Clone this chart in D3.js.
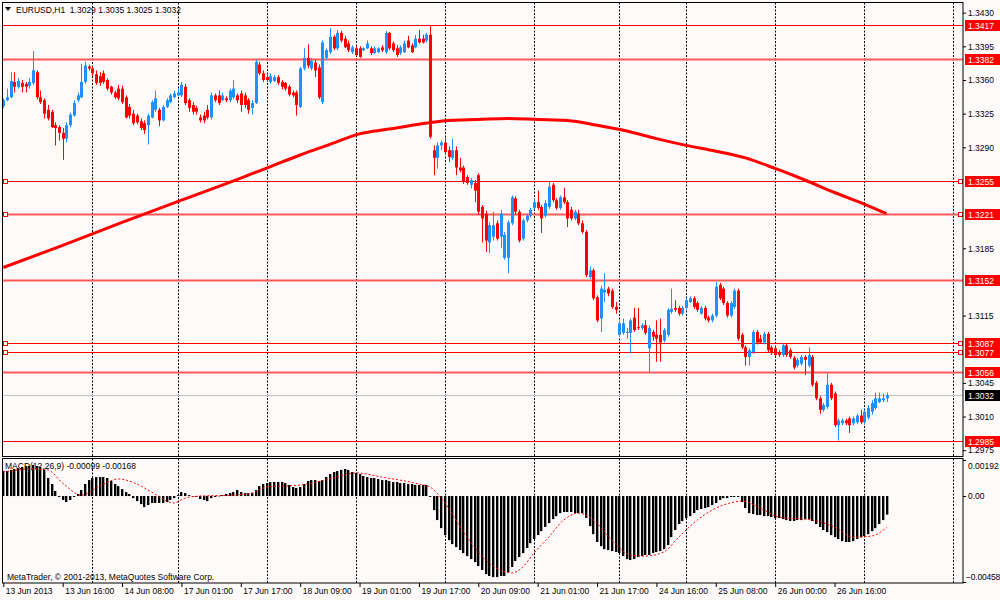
<!DOCTYPE html>
<html lang="en">
<head>
  <meta charset="UTF-8" />
  <title>EURUSD,H1</title>
  <script src="https://cdn.jsdelivr.net/npm/d3@7/dist/d3.min.js"></script>
  <style>
    body { margin: 0; background: #fffafa; }
    #chart { width: 1000px; height: 600px; }
    svg text { font-family: "Liberation Sans", Arial, sans-serif; font-size: 8.5px; fill: #000; }
  </style>
</head>
<body>
  <div id="chart"></div>

  <script>
  // EURUSD H1 candles (one entry per hourly bar)
  const opens = [
    1.3333,1.3339,1.3342,1.3358,1.3353,1.3357,1.3356,1.3354,1.3357,1.3368,
    1.3342,1.3339,1.3329,1.3327,1.3313,1.3311,1.3305,1.3299,1.3313,1.3323,
    1.3339,1.3342,1.3358,1.3374,1.3372,1.3366,1.3364,1.3367,1.3360,1.3353,
    1.3347,1.3351,1.3351,1.3342,1.3332,1.3325,1.3323,1.3317,1.3315,1.3313,
    1.3321,1.3329,1.3329,1.3318,1.3332,1.3337,1.3342,1.3344,1.3344,1.3353,
    1.3339,1.3334,1.3331,1.3321,1.3323,1.3329,1.3321,1.3344,1.3344,1.3339,
    1.3341,1.3339,1.3342,1.3344,1.3346,1.3344,1.3339,1.3331,1.3336,1.3376,
    1.3367,1.3363,1.3358,1.3359,1.3363,1.3358,1.3357,1.3353,1.3347,1.3347,
    1.3332,1.3372,1.3383,1.3372,1.3378,1.3373,1.3337,1.3383,1.3389,1.3405,
    1.3393,1.3409,1.3403,1.3398,1.3389,1.3393,1.3393,1.3391,1.3393,1.3393,
    1.3388,1.3389,1.3394,1.3389,1.3409,1.3398,1.3393,1.3388,1.3389,1.3401,
    1.3396,1.3394,1.3403,1.3403,1.3401,1.3407,1.3287,1.3279,1.3292,1.3295,
    1.3287,1.3279,1.3287,1.3269,1.3269,1.3259,1.3251,1.3253,1.3261,1.3228,
    1.3221,1.3191,1.3197,1.3211,1.3197,1.3175,1.3175,1.3211,1.3237,1.3223,
    1.3195,1.3214,1.3219,1.3227,1.3233,1.3228,1.3219,1.3228,1.3251,1.3235,
    1.3227,1.3238,1.3233,1.3225,1.3216,1.3221,1.3211,1.3202,1.3155,1.3162,
    1.3134,1.3112,1.3139,1.3143,1.3141,1.3124,1.3095,1.3097,1.3097,1.3097,
    1.3113,1.3103,1.3102,1.3105,1.3081,1.3098,1.3095,1.3095,1.3089,1.3095,
    1.3119,1.3123,1.3123,1.3117,1.3123,1.3129,1.3133,1.3128,1.3117,1.3123,
    1.3113,1.3110,1.3115,1.3147,1.3143,1.3128,1.3115,1.3124,1.3141,1.3095,
    1.3082,1.3072,1.3077,1.3098,1.3091,1.3087,1.3096,1.3082,1.3081,1.3077,
    1.3074,1.3084,1.3079,1.3071,1.3063,1.3065,1.3072,1.3063,1.3072,1.3045,
    1.3029,1.3017,1.3020,1.3043,1.3034,1.3001,1.3003,1.3006,1.3008,1.3003,
    1.3004,1.3011,1.3004,1.3009,1.3015,1.3019,1.3025,1.3027,1.3029
  ];
  const highs = [
    1.3341,1.3351,1.3368,1.3368,1.3362,1.3360,1.3358,1.3362,1.3390,1.3370,
    1.3349,1.3341,1.3334,1.3329,1.3316,1.3313,1.3310,1.3316,1.3326,1.3339,
    1.3347,1.3377,1.3379,1.3376,1.3374,1.3370,1.3368,1.3370,1.3362,1.3354,
    1.3349,1.3355,1.3354,1.3344,1.3335,1.3329,1.3325,1.3320,1.3318,1.3325,
    1.3339,1.3349,1.3331,1.3334,1.3341,1.3346,1.3349,1.3351,1.3358,1.3356,
    1.3341,1.3337,1.3333,1.3324,1.3327,1.3334,1.3347,1.3346,1.3349,1.3347,
    1.3343,1.3351,1.3360,1.3346,1.3349,1.3347,1.3341,1.3339,1.3381,1.3379,
    1.3370,1.3365,1.3367,1.3365,1.3365,1.3360,1.3358,1.3355,1.3349,1.3349,
    1.3374,1.3393,1.3397,1.3383,1.3381,1.3376,1.3401,1.3393,1.3414,1.3407,
    1.3412,1.3411,1.3406,1.3401,1.3396,1.3395,1.3395,1.3394,1.3401,1.3395,
    1.3395,1.3394,1.3396,1.3411,1.3410,1.3400,1.3396,1.3396,1.3401,1.3406,
    1.3398,1.3407,1.3412,1.3407,1.3409,1.3417,1.3292,1.3295,1.3297,1.3300,
    1.3291,1.3299,1.3291,1.3279,1.3271,1.3261,1.3258,1.3256,1.3263,1.3230,
    1.3224,1.3212,1.3223,1.3214,1.3225,1.3202,1.3214,1.3240,1.3239,1.3225,
    1.3216,1.3221,1.3227,1.3237,1.3245,1.3230,1.3235,1.3254,1.3253,1.3237,
    1.3240,1.3248,1.3235,1.3228,1.3225,1.3225,1.3214,1.3204,1.3166,1.3164,
    1.3136,1.3146,1.3159,1.3145,1.3143,1.3129,1.3110,1.3112,1.3102,1.3112,
    1.3123,1.3123,1.3107,1.3110,1.3105,1.3100,1.3110,1.3112,1.3102,1.3123,
    1.3143,1.3131,1.3125,1.3125,1.3133,1.3135,1.3135,1.3130,1.3125,1.3125,
    1.3115,1.3117,1.3150,1.3149,1.3145,1.3130,1.3130,1.3143,1.3143,1.3097,
    1.3084,1.3081,1.3100,1.3100,1.3095,1.3098,1.3098,1.3084,1.3083,1.3079,
    1.3086,1.3086,1.3081,1.3073,1.3071,1.3074,1.3074,1.3082,1.3074,1.3047,
    1.3031,1.3024,1.3055,1.3045,1.3036,1.3008,1.3008,1.3008,1.3010,1.3010,
    1.3013,1.3017,1.3017,1.3022,1.3027,1.3035,1.3035,1.3034,1.3035
  ];
  const lows = [
    1.3331,1.3338,1.3341,1.3347,1.3351,1.3347,1.3347,1.3351,1.3355,1.3340,
    1.3335,1.3320,1.3318,1.3310,1.3292,1.3297,1.3277,1.3295,1.3311,1.3322,
    1.3337,1.3341,1.3356,1.3370,1.3364,1.3355,1.3354,1.3356,1.3349,1.3345,
    1.3340,1.3339,1.3335,1.3320,1.3320,1.3313,1.3314,1.3308,1.3304,1.3293,
    1.3320,1.3327,1.3312,1.3317,1.3331,1.3336,1.3341,1.3343,1.3342,1.3334,
    1.3327,1.3324,1.3324,1.3316,1.3315,1.3319,1.3319,1.3337,1.3334,1.3338,
    1.3337,1.3337,1.3340,1.3336,1.3327,1.3331,1.3325,1.3324,1.3335,1.3365,
    1.3358,1.3358,1.3356,1.3358,1.3355,1.3350,1.3349,1.3343,1.3342,1.3323,
    1.3331,1.3370,1.3372,1.3370,1.3363,1.3340,1.3335,1.3381,1.3387,1.3391,
    1.3391,1.3399,1.3393,1.3389,1.3387,1.3385,1.3383,1.3390,1.3392,1.3386,
    1.3387,1.3388,1.3389,1.3387,1.3391,1.3389,1.3384,1.3386,1.3388,1.3393,
    1.3388,1.3393,1.3398,1.3398,1.3399,1.3299,1.3261,1.3268,1.3287,1.3282,
    1.3275,1.3277,1.3261,1.3264,1.3252,1.3251,1.3247,1.3233,1.3220,1.3191,
    1.3181,1.3180,1.3193,1.3193,1.3185,1.3173,1.3159,1.3209,1.3220,1.3191,
    1.3193,1.3212,1.3217,1.3225,1.3225,1.3201,1.3217,1.3226,1.3233,1.3225,
    1.3225,1.3231,1.3207,1.3214,1.3214,1.3209,1.3200,1.3155,1.3153,1.3131,
    1.3108,1.3098,1.3129,1.3135,1.3122,1.3117,1.3093,1.3095,1.3091,1.3076,
    1.3098,1.3100,1.3100,1.3095,1.3056,1.3089,1.3067,1.3067,1.3087,1.3093,
    1.3117,1.3119,1.3115,1.3115,1.3121,1.3128,1.3122,1.3119,1.3116,1.3110,
    1.3108,1.3108,1.3113,1.3131,1.3126,1.3113,1.3113,1.3122,1.3089,1.3080,
    1.3063,1.3063,1.3075,1.3085,1.3086,1.3085,1.3077,1.3074,1.3072,1.3072,
    1.3072,1.3072,1.3070,1.3059,1.3061,1.3063,1.3053,1.3061,1.3041,1.3027,
    1.3013,1.3015,1.3018,1.3027,1.2999,1.2985,1.3001,1.3001,1.2993,1.3001,
    1.3002,1.3002,1.3002,1.3007,1.3012,1.3017,1.3024,1.3025,1.3025
  ];
  const closes = [
    1.3339,1.3342,1.3359,1.3353,1.3359,1.3353,1.3353,1.3358,1.3370,1.3342,
    1.3337,1.3325,1.3320,1.3311,1.3310,1.3305,1.3299,1.3313,1.3324,1.3336,
    1.3344,1.3358,1.3375,1.3372,1.3367,1.3357,1.3357,1.3358,1.3351,1.3347,
    1.3342,1.3341,1.3337,1.3321,1.3323,1.3315,1.3316,1.3310,1.3308,1.3323,
    1.3337,1.3341,1.3318,1.3332,1.3339,1.3344,1.3346,1.3347,1.3355,1.3336,
    1.3331,1.3327,1.3327,1.3318,1.3318,1.3321,1.3344,1.3339,1.3336,1.3344,
    1.3339,1.3349,1.3351,1.3339,1.3334,1.3334,1.3329,1.3336,1.3379,1.3367,
    1.3360,1.3360,1.3364,1.3363,1.3357,1.3353,1.3351,1.3345,1.3344,1.3334,
    1.3372,1.3383,1.3375,1.3380,1.3370,1.3342,1.3399,1.3391,1.3405,1.3393,
    1.3409,1.3401,1.3394,1.3391,1.3394,1.3386,1.3384,1.3393,1.3398,1.3388,
    1.3393,1.3393,1.3391,1.3409,1.3393,1.3391,1.3386,1.3394,1.3398,1.3394,
    1.3389,1.3403,1.3399,1.3399,1.3407,1.3301,1.3279,1.3292,1.3295,1.3285,
    1.3280,1.3287,1.3269,1.3266,1.3254,1.3253,1.3256,1.3245,1.3223,1.3216,
    1.3193,1.3209,1.3209,1.3195,1.3221,1.3199,1.3212,1.3238,1.3223,1.3193,
    1.3214,1.3219,1.3225,1.3233,1.3227,1.3216,1.3232,1.3249,1.3235,1.3227,
    1.3238,1.3233,1.3216,1.3216,1.3223,1.3211,1.3202,1.3157,1.3162,1.3133,
    1.3110,1.3143,1.3142,1.3138,1.3124,1.3121,1.3107,1.3107,1.3098,1.3110,
    1.3100,1.3102,1.3105,1.3097,1.3102,1.3093,1.3091,1.3087,1.3100,1.3121,
    1.3122,1.3121,1.3117,1.3123,1.3131,1.3133,1.3124,1.3121,1.3123,1.3112,
    1.3110,1.3115,1.3145,1.3133,1.3128,1.3115,1.3128,1.3141,1.3091,1.3082,
    1.3072,1.3079,1.3098,1.3087,1.3087,1.3096,1.3079,1.3076,1.3074,1.3074,
    1.3084,1.3074,1.3072,1.3061,1.3069,1.3072,1.3069,1.3074,1.3043,1.3029,
    1.3017,1.3022,1.3043,1.3029,1.3001,1.3006,1.3006,1.3003,1.3001,1.3008,
    1.3011,1.3004,1.3015,1.3019,1.3024,1.3029,1.3029,1.3029,1.3032
  ];

  // moving average (thick red curve), read at some bars
  const maIdx = [0,16,32,48,64,72,80,88,96,104,112,120,128,136,144,152,160,168,176,184,192,200,208,216,224,232,238];
  const maVal = [1.3165,1.3188,1.3212,1.3235,1.3258,1.3270,1.3282,1.3293,1.3304,1.3309,1.3314,1.3318,1.3319,
                 1.3320,1.3319,1.3318,1.3313,1.3307,1.3299,1.3292,1.3286,1.3279,1.3268,1.3256,1.3243,1.3231,1.3221];

  // MACD(12,26,9) histogram, one per bar
  const macdHist = [
    0.00133,0.00133,0.00139,0.00144,0.00149,0.00155,0.00160,0.00160,0.00165,0.00160,
    0.00155,0.00139,0.00096,0.00064,0.00027,-0.00005,-0.00021,-0.00032,-0.00021,-0.00005,
    0.00011,0.00032,0.00064,0.00085,0.00096,0.00101,0.00101,0.00101,0.00096,0.00080,
    0.00064,0.00053,0.00037,0.00021,0.00011,-0.00011,-0.00027,-0.00043,-0.00059,-0.00048,
    -0.00037,-0.00037,-0.00037,-0.00037,-0.00032,-0.00021,-0.00011,0.00005,0.00021,0.00016,
    0.00005,-0.00003,-0.00005,-0.00016,-0.00021,-0.00027,-0.00011,-0.00005,-0.00002,0.00005,
    0.00011,0.00016,0.00021,0.00032,0.00021,0.00016,0.00016,0.00016,0.00032,0.00053,
    0.00064,0.00069,0.00075,0.00075,0.00075,0.00075,0.00069,0.00059,0.00048,0.00043,
    0.00048,0.00064,0.00080,0.00085,0.00085,0.00080,0.00085,0.00101,0.00117,0.00128,
    0.00133,0.00139,0.00144,0.00139,0.00128,0.00123,0.00117,0.00107,0.00101,0.00096,
    0.00096,0.00091,0.00085,0.00085,0.00080,0.00075,0.00075,0.00069,0.00069,0.00064,
    0.00064,0.00059,0.00059,0.00059,0.00059,-0.00005,-0.00075,-0.00128,-0.00171,-0.00208,
    -0.00235,-0.00256,-0.00272,-0.00288,-0.00304,-0.00320,-0.00336,-0.00352,-0.00373,-0.00394,
    -0.00416,-0.00426,-0.00432,-0.00432,-0.00426,-0.00426,-0.00405,-0.00378,-0.00346,-0.00325,
    -0.00304,-0.00277,-0.00251,-0.00229,-0.00208,-0.00187,-0.00165,-0.00144,-0.00123,-0.00107,
    -0.00091,-0.00085,-0.00085,-0.00085,-0.00091,-0.00091,-0.00091,-0.00117,-0.00160,-0.00203,
    -0.00245,-0.00267,-0.00283,-0.00288,-0.00293,-0.00298,-0.00304,-0.00320,-0.00336,-0.00341,
    -0.00336,-0.00325,-0.00320,-0.00314,-0.00314,-0.00304,-0.00298,-0.00293,-0.00283,-0.00261,
    -0.00219,-0.00181,-0.00149,-0.00133,-0.00117,-0.00107,-0.00091,-0.00075,-0.00069,-0.00064,
    -0.00059,-0.00048,-0.00037,-0.00021,-0.00011,-0.00011,-0.00005,-0.00005,-0.00005,-0.00032,
    -0.00064,-0.00091,-0.00096,-0.00101,-0.00101,-0.00107,-0.00107,-0.00112,-0.00117,-0.00117,
    -0.00123,-0.00128,-0.00133,-0.00133,-0.00128,-0.00128,-0.00123,-0.00123,-0.00133,-0.00149,
    -0.00165,-0.00181,-0.00192,-0.00208,-0.00219,-0.00229,-0.00240,-0.00245,-0.00245,-0.00240,
    -0.00229,-0.00219,-0.00213,-0.00203,-0.00187,-0.00171,-0.00149,-0.00128,-0.00099
  ];

  // MACD signal line (red dots), read at some bars
  const sigIdx = [0,8,12,16,21,26,31,36,40,46,49,53,62,67,71,80,89,95,102,112,115,118,125,130,134,137,140,143,
                  147,151,155,159,164,169,173,178,182,187,191,197,199,205,209,218,224,229,234,238];
  const sigVal = [0.00128,0.00144,0.00139,0.00069,0.00005,0.00053,0.00091,0.00064,0.00021,-0.00037,-0.00011,0.00000,
                  0.00005,0.00016,0.00048,0.00059,0.00096,0.00123,0.00101,0.00064,0.00048,-0.00011,-0.00219,-0.00341,
                  -0.00394,-0.00410,-0.00378,-0.00304,-0.00219,-0.00128,-0.00091,-0.00128,-0.00235,-0.00314,-0.00320,
                  -0.00298,-0.00219,-0.00128,-0.00075,-0.00032,-0.00027,-0.00075,-0.00112,-0.00128,-0.00165,-0.00219,
                  -0.00213,-0.00168];

  // horizontal levels drawn on the chart, and the bid
  const levels = [1.3417, 1.3382, 1.3255, 1.3221, 1.3152, 1.3087, 1.3077, 1.3056, 1.2985];
  const bidPrice = 1.3032;

  // axes
  const priceTicks = [1.3430, 1.3395, 1.3360, 1.3325, 1.3290, 1.3185, 1.3115, 1.3045, 1.3010, 1.2975];
  const macdTicks = [0.00192, 0, -0.00458];
  const timeIdx = [0,16,32,48,64,80,96,112,128,144,160,176,192,208,224];
  const timeLabels = ['13 Jun 2013','13 Jun 16:00','14 Jun 08:00','17 Jun 01:00','17 Jun 17:00','18 Jun 09:00',
                      '19 Jun 01:00','19 Jun 17:00','20 Jun 09:00','21 Jun 01:00','21 Jun 17:00','24 Jun 16:00',
                      '25 Jun 08:00','26 Jun 00:00','26 Jun 16:00'];
  const gridIdx = [24,47,71,95,119,143,166,184,208,232,256];

  const headerText = 'EURUSD,H1  1.3029 1.3035 1.3025 1.3032';
  const macdText = 'MACD(12,26,9) -0.00099 -0.00168';
  const copyText = 'MetaTrader, \u00a9 2001-2013, MetaQuotes Software Corp.';

  function drawChart() {
    const W = 1000, H = 600;
    const left = 2.5, right = 963;
    const mainTop = 2.5, mainBot = 456.5;
    const macdTop = 458.5, macdBot = 583;
    const upCol = '#1e90ff', downCol = '#ff0000';

    const x = d3.scaleLinear().domain([0, 256]).range([3.3, 953.3]);
    const y = d3.scaleLinear().domain([1.2975, 1.3430]).range([450.2, 12.7]);
    const ym = d3.scaleLinear().domain([-0.00458, 0.00192]).range([582, 460]);
    const px = i => Math.round(x(i));

    const svg = d3.select('#chart').append('svg')
      .attr('width', W).attr('height', H);
    svg.append('rect').attr('width', W).attr('height', H).attr('fill', '#fffafa');

    const defs = svg.append('defs');
    defs.append('clipPath').attr('id', 'clipMain').append('rect')
      .attr('x', left).attr('y', mainTop).attr('width', right - left).attr('height', mainBot - mainTop);
    defs.append('clipPath').attr('id', 'clipMacd').append('rect')
      .attr('x', left).attr('y', macdTop).attr('width', right - left).attr('height', macdBot - macdTop);

    // vertical dashed grid in both panels
    const grid = svg.append('g').attr('stroke', '#000').attr('stroke-dasharray', '2,1.5');
    gridIdx.forEach(i => {
      [[mainTop, mainBot], [macdTop, macdBot]].forEach(([a, b]) => {
        grid.append('line')
          .attr('x1', px(i) + 0.5).attr('x2', px(i) + 0.5)
          .attr('y1', a).attr('y2', b);
      });
    });

    // ----- main panel -----
    const main = svg.append('g').attr('clip-path', 'url(#clipMain)');

    const wideLevels = new Set([1.3382, 1.3221, 1.3152, 1.3056]);
    const markedLevels = new Set([1.3255, 1.3221, 1.3087, 1.3077]);

    main.append('line')
      .attr('x1', left).attr('x2', right)
      .attr('y1', Math.round(y(bidPrice)) + 0.5).attr('y2', Math.round(y(bidPrice)) + 0.5)
      .attr('stroke', '#c0c0c0');

    levels.forEach(p => {
      const yy = Math.round(y(p)) + 0.5;
      main.append('line')
        .attr('x1', left).attr('x2', right).attr('y1', yy).attr('y2', yy)
        .attr('stroke', wideLevels.has(p) ? '#ff5a5a' : '#ff0000')
        .attr('stroke-width', wideLevels.has(p) ? 2 : 1);
    });

    // moving average
    const maLine = d3.line()
      .x(d => x(d[0])).y(d => y(d[1]))
      .curve(d3.curveMonotoneX);
    main.append('path')
      .datum(d3.zip(maIdx, maVal))
      .attr('fill', 'none')
      .attr('stroke', '#ff0000')
      .attr('stroke-width', 3)
      .attr('d', maLine);

    // candles
    const bars = d3.range(closes.length);
    const isUp = i => closes[i] >= opens[i];
    main.selectAll('line.wick').data(bars).join('line')
      .attr('class', 'wick')
      .attr('x1', i => px(i) + 0.5).attr('x2', i => px(i) + 0.5)
      .attr('y1', i => y(Math.max(highs[i], opens[i], closes[i])))
      .attr('y2', i => y(Math.min(lows[i], opens[i], closes[i])))
      .attr('stroke', i => isUp(i) ? upCol : downCol);
    main.selectAll('rect.body').data(bars).join('rect')
      .attr('class', 'body')
      .attr('x', i => px(i) - 1)
      .attr('width', 3)
      .attr('y', i => Math.min(y(opens[i]), y(closes[i])))
      .attr('height', i => Math.max(1, Math.abs(y(opens[i]) - y(closes[i]))))
      .attr('fill', i => isUp(i) ? upCol : downCol);

    // small squares at the ends of the marked levels
    levels.filter(p => markedLevels.has(p)).forEach(p => {
      const yy = Math.round(y(p));
      [3, 958].forEach(sx => {
        svg.append('rect')
          .attr('x', sx + 0.5).attr('y', yy - 1.5)
          .attr('width', 4).attr('height', 4)
          .attr('fill', '#fffafa').attr('stroke', '#ff0000');
      });
    });

    // header
    svg.append('path').attr('d', 'M5,7 L11,7 L8,11 Z').attr('fill', '#000');
    svg.append('text').attr('x', 16).attr('y', 13)
      .style('white-space', 'pre').text(headerText);

    // ----- MACD panel -----
    svg.append('text').attr('x', 5).attr('y', 469)
      .style('white-space', 'pre').text(macdText);

    const macd = svg.append('g').attr('clip-path', 'url(#clipMacd)');
    macd.selectAll('rect.hg').data(bars).join('rect')
      .attr('class', 'hg')
      .attr('x', i => px(i) + 1)
      .attr('width', 1)
      .attr('y', i => Math.min(ym(0), ym(macdHist[i])))
      .attr('height', i => Math.abs(ym(macdHist[i]) - ym(0)))
      .attr('fill', '#a0a0a0');
    macd.selectAll('rect.hb').data(bars).join('rect')
      .attr('class', 'hb')
      .attr('x', i => px(i) - 1)
      .attr('width', 2)
      .attr('y', i => Math.min(ym(0), ym(macdHist[i])))
      .attr('height', i => Math.abs(ym(macdHist[i]) - ym(0)))
      .attr('fill', '#000');

    const sigLine = d3.line()
      .x(d => x(d[0])).y(d => ym(d[1]))
      .curve(d3.curveMonotoneX);
    macd.append('path')
      .datum(d3.zip(sigIdx, sigVal))
      .attr('fill', 'none')
      .attr('stroke', '#ff0000')
      .attr('stroke-width', 1)
      .attr('stroke-dasharray', '2,2')
      .attr('d', sigLine);

    svg.append('text').attr('x', 7).attr('y', 580).text(copyText);

    // panel borders
    [[mainTop, mainBot], [macdTop, macdBot]].forEach(([a, b]) => {
      svg.append('rect')
        .attr('x', left).attr('y', a)
        .attr('width', right - left).attr('height', b - a)
        .attr('fill', 'none').attr('stroke', '#000');
    });

    // price axis
    const pAxis = svg.append('g')
      .attr('transform', `translate(${right},0)`)
      .call(d3.axisRight(y).tickValues(priceTicks).tickSize(3).tickPadding(2)
        .tickFormat(d3.format('.4f')));
    pAxis.select('.domain').remove();

    // level tags and bid tag
    const tags = svg.append('g');
    levels.concat([bidPrice]).forEach(p => {
      const yy = Math.round(y(p));
      tags.append('rect')
        .attr('x', 965).attr('y', yy - 5)
        .attr('width', 36).attr('height', 11)
        .attr('fill', p === bidPrice ? '#000' : '#ff0000');
      tags.append('text')
        .attr('x', 968).attr('y', yy + 3.5)
        .style('fill', '#fff')
        .text(d3.format('.4f')(p));
    });

    // MACD axis
    const mAxis = svg.append('g')
      .attr('transform', `translate(${right},0)`)
      .call(d3.axisRight(ym).tickValues(macdTicks).tickSize(3).tickPadding(2)
        .tickFormat(d => d === 0 ? '0.00' : d3.format('.5f')(d)));
    mAxis.select('.domain').remove();
    mAxis.selectAll('.tick text')
      .attr('dy', d => d > 0 ? '0.95em' : (d < 0 ? '-0.3em' : '0.32em'))
      .attr('x', d => d < 0 ? 3 : 5)
      .style('letter-spacing', d => d < 0 ? '-0.2px' : null);

    // time axis
    const tAxis = svg.append('g')
      .attr('transform', `translate(0,${macdBot})`)
      .call(d3.axisBottom(x).tickValues(timeIdx).tickSize(4).tickPadding(1)
        .tickFormat((d, k) => timeLabels[k]));
    tAxis.select('.domain').remove();
    tAxis.selectAll('.tick text').attr('text-anchor', 'start').attr('x', 2);
  }

  drawChart();
  </script>
</body>
</html>
